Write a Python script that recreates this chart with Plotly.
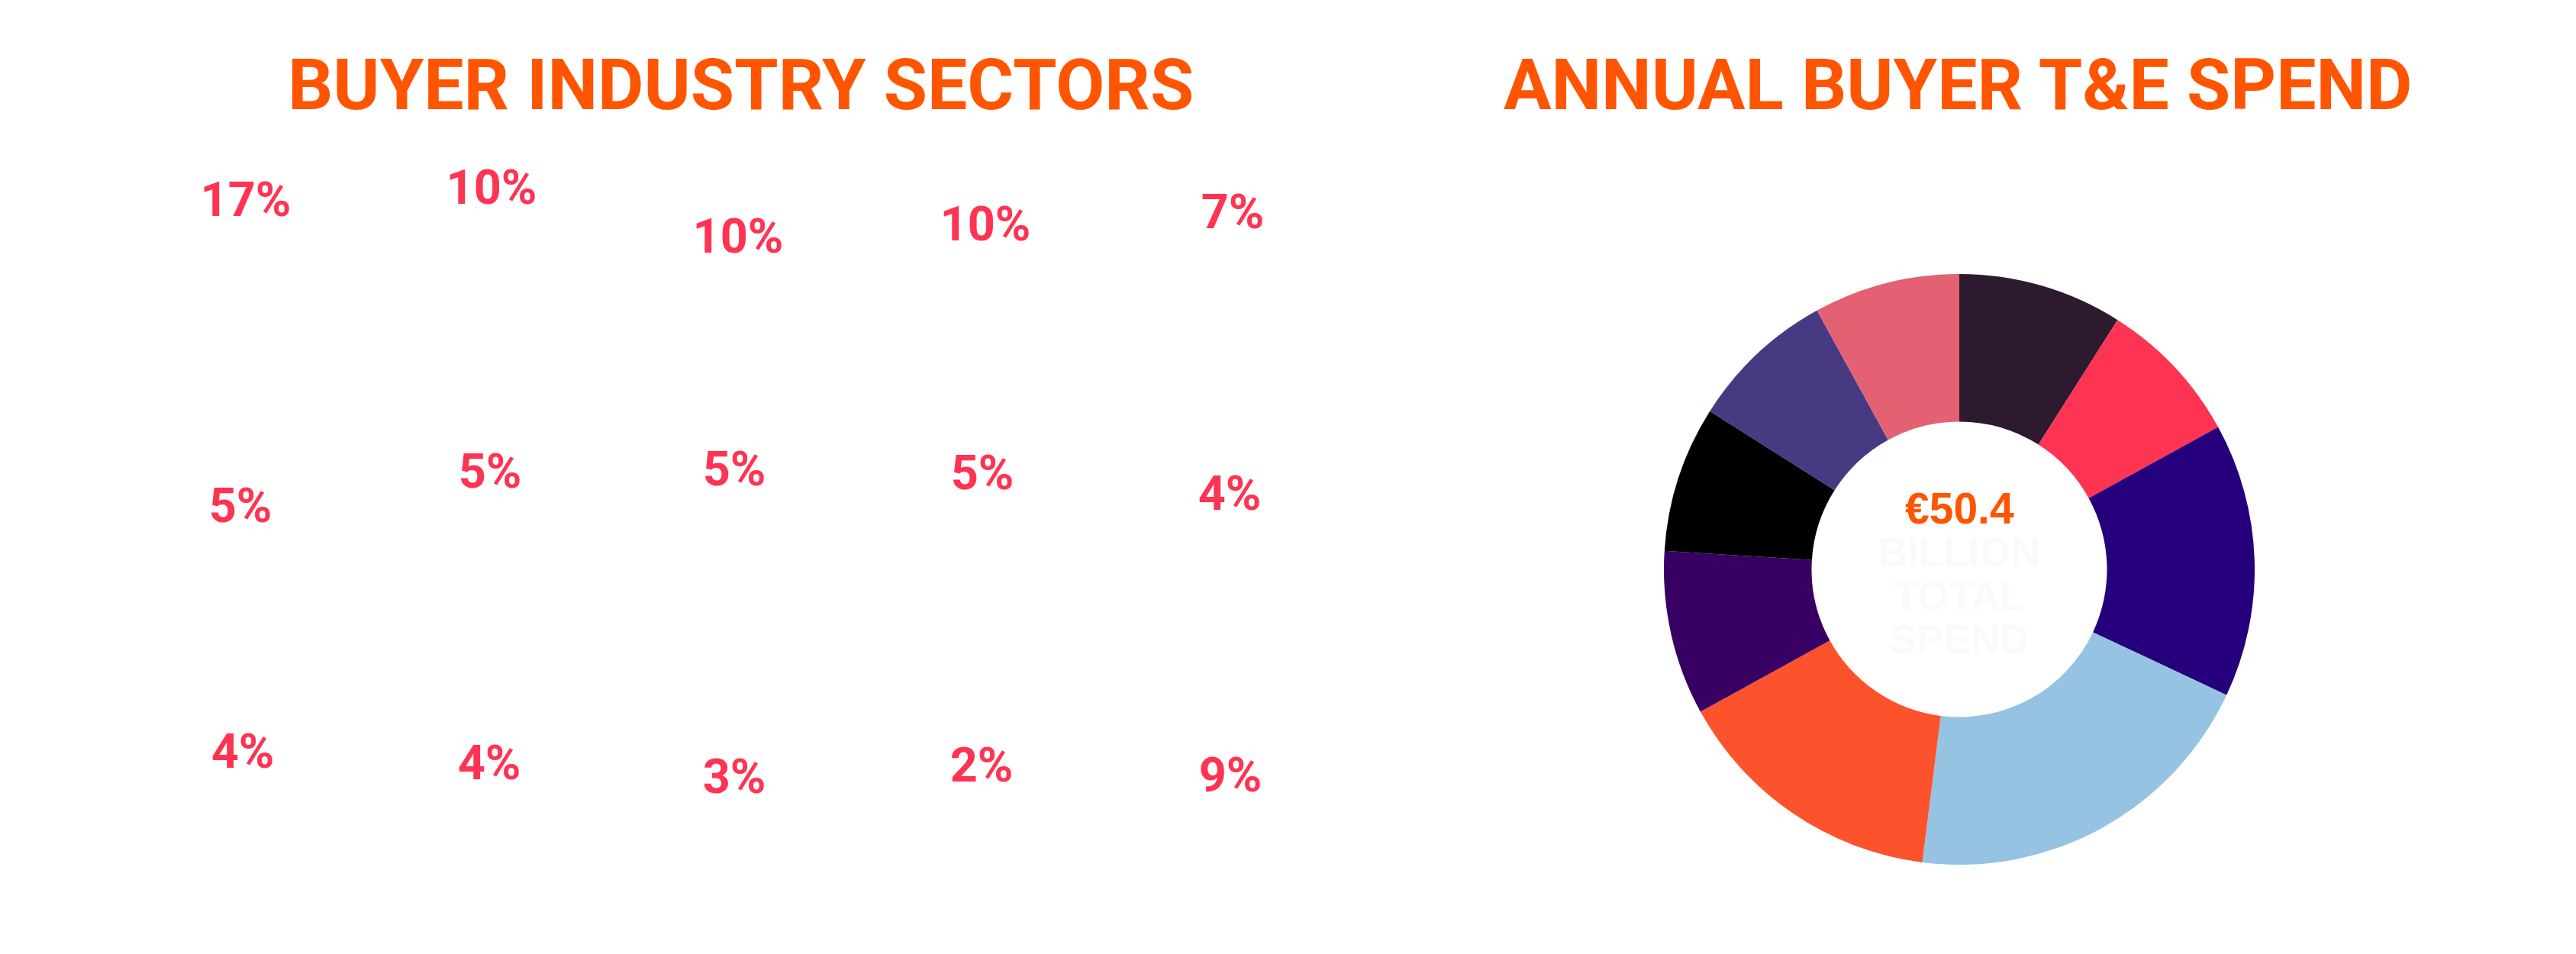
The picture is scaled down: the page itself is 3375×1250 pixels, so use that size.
import plotly.graph_objects as go

# ---------------- data ----------------
sector_names = ["Sector 1", "Sector 2", "Sector 3", "Sector 4", "Sector 5",
                "Sector 6", "Sector 7", "Sector 8", "Sector 9", "Sector 10",
                "Sector 11", "Sector 12", "Sector 13", "Sector 14", "Other"]
sector_share = [17, 10, 10, 10, 7,
                5, 5, 5, 5, 4,
                4, 4, 3, 2, 9]

spend_bands = ["Band 1", "Band 2", "Band 3", "Band 4", "Band 5",
               "Band 6", "Band 7", "Band 8", "Band 9"]
spend_share = [9, 8, 15, 20, 15, 9, 8, 8, 8]
total_spend_label = "€50.4"
total_spend_sub = ["BILLION", "TOTAL", "SPEND"]

left_title = "BUYER INDUSTRY SECTORS"
right_title = "ANNUAL BUYER T&E SPEND"

# ---------------- layout (pixel placement of the label grid) ----------------
W, H = 3375, 1250
OFFX = 8   # page body margin compensation
OFFY_T = 8
OFFY_L = 2
OFFY_D = 4
label_x = [322, 644, 967, 1291, 1615,
           315, 642, 962, 1287, 1611,
           318, 641, 962, 1286, 1612]
label_y = [261, 245, 309, 293, 277,
           662, 617, 614, 619, 646,
           984, 999, 1017, 1002, 1015]
px = [v - OFFX for v in label_x]
py = [v - OFFY_L for v in label_y]

slice_colors = ["#2D1A2E", "#FF3352", "#26007C", "#95C3E1", "#FD532D",
                "#380062", "#000000", "#473A83", "#E36173"]

ORANGE = "#FF5500"
RED = "#FF3352"

cx, cy, R = 2567 - OFFX, 742 - OFFY_D, 387  # donut centre / radius in px

fig = go.Figure()

fig.add_trace(go.Scatter(
    x=px, y=py,
    mode="text",
    text=[f"{v}%" for v in sector_share],
    customdata=sector_names,
    hovertemplate="%{customdata}: %{text}<extra></extra>",
    textposition="middle center",
    textfont=dict(family="Roboto", size=63, color=RED, weight="bold"),
    showlegend=False,
))

fig.add_trace(go.Pie(
    labels=spend_bands, values=spend_share,
    sort=False, direction="clockwise", rotation=0,
    hole=0.5,
    marker=dict(colors=slice_colors, line=dict(width=0)),
    textinfo="none",
    hoverinfo="label+percent",
    showlegend=False,
    domain=dict(x=[(cx - R) / W, (cx + R) / W],
                y=[(H - cy - R) / H, (H - cy + R) / H]),
))

annotations = [
    dict(x=970 - OFFX, y=111 - OFFY_T, text=left_title, showarrow=False, xref="x", yref="y",
         xanchor="center", yanchor="middle",
         font=dict(family="Roboto", size=93, color=ORANGE, weight="bold")),
    dict(x=2565 - OFFX, y=111 - OFFY_T, text=right_title, showarrow=False, xref="x", yref="y",
         xanchor="center", yanchor="middle",
         font=dict(family="Roboto", size=93, color=ORANGE, weight="bold")),
    dict(x=cx, y=662 - OFFY_D, text=total_spend_label, showarrow=False, xref="x", yref="y",
         xanchor="center", yanchor="middle",
         font=dict(family="Liberation Sans", size=57, color=ORANGE, weight="bold")),
]
for i, line in enumerate(total_spend_sub):
    annotations.append(dict(x=cx, y=719 - OFFY_D + 57 * i, text=line, showarrow=False,
                            xref="x", yref="y", xanchor="center", yanchor="middle",
                            font=dict(family="Liberation Sans", size=53,
                                      color="#FAFAFA", weight="bold")))

fig.update_layout(
    width=W, height=H,
    margin=dict(l=0, r=0, t=0, b=0),
    paper_bgcolor="white", plot_bgcolor="white",
    xaxis=dict(range=[0, W], visible=False, fixedrange=True),
    yaxis=dict(range=[H, 0], visible=False, fixedrange=True),
    annotations=annotations,
)

fig.write_html("out.html")
